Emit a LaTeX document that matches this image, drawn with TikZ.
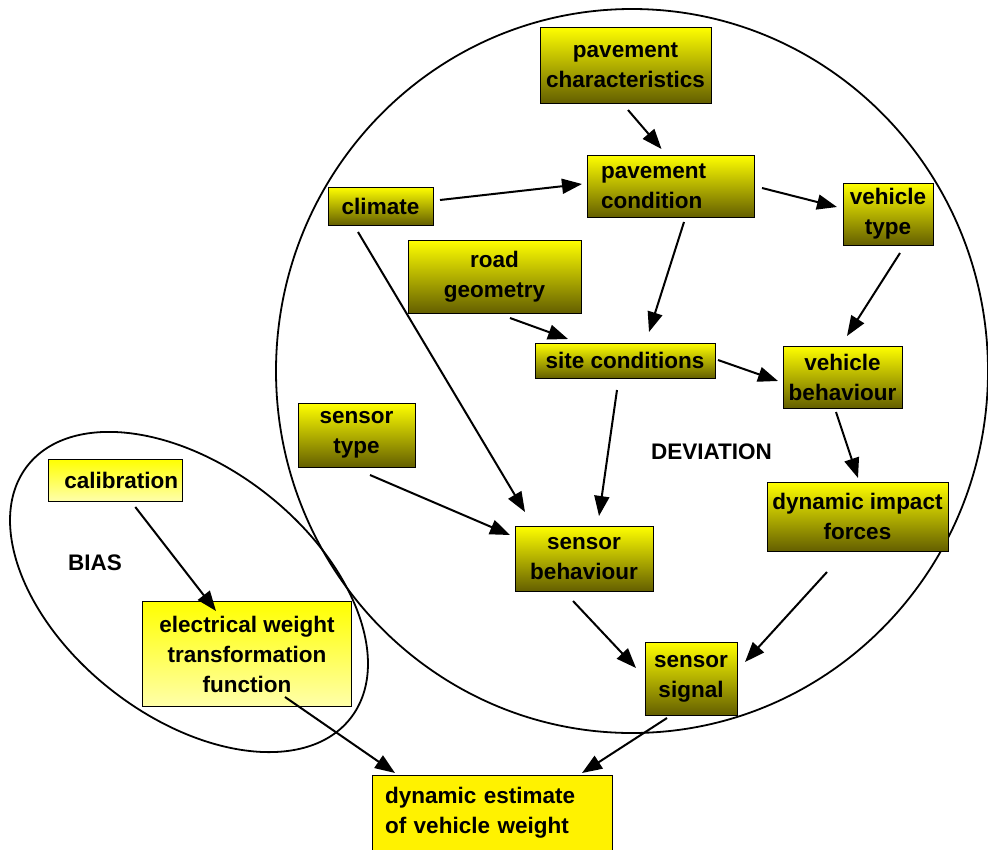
\documentclass[tikz,border=0pt]{standalone}
\usepackage{fontspec}
\setmainfont{Liberation Sans}
\usetikzlibrary{arrows.meta,calc}
\definecolor{olivebot}{RGB}{100,95,0}
\definecolor{lightbot}{RGB}{255,255,170}
\begin{document}
\begin{tikzpicture}[x=1pt,y=-1pt,
  boxbase/.style={draw=black, line width=1pt, inner xsep=0pt, inner ysep=0pt, align=center,
    font=\fontsize{22.5}{30}\selectfont\bfseries},
  darkbox/.style={boxbase, top color=yellow, bottom color=olivebot},
  lightbox/.style={boxbase, top color=yellow, bottom color=lightbot},
  plainbox/.style={boxbase, fill=yellow},
  conn/.style={line width=2pt, -{Triangle[length=20pt,width=15pt]}},
  ring/.style={line width=1.8pt},
  lbltext/.style={font=\fontsize{22.5}{30}\selectfont\bfseries}
]
\useasboundingbox (0,0) rectangle (988,849);
\clip (0,0) rectangle (988,849);

% enclosing shapes
\draw[ring] (632,371) ellipse [x radius=356, y radius=362];
\draw[ring, rotate around={-38:(189,592)}] (189,592) ellipse [x radius=205, y radius=125];

% nodes
\node[darkbox, minimum width=171pt, minimum height=76pt] (pc) at (625.5,65) {pavement\\characteristics};
\node[darkbox, text width=139pt, inner xsep=14pt, align=left, minimum height=62pt] (pcond) at (670.5,186) {pavement\\condition};
\node[darkbox, minimum width=105pt, minimum height=38pt] (climate) at (380.5,206) {climate};
\node[darkbox, minimum width=90pt, minimum height=62pt] (vtype) at (888,214) {vehicle\\type};
\node[darkbox, minimum width=173pt, minimum height=73pt] (road) at (494.5,276.5) {road\\geometry};
\node[darkbox, minimum width=180pt, minimum height=35pt] (site) at (625,360.5) {site conditions};
\node[darkbox, minimum width=119pt, minimum height=62pt] (vbeh) at (842.5,377) {vehicle\\behaviour};
\node[darkbox, minimum width=117pt, minimum height=64pt] (stype) at (356.5,435) {sensor\\type};
\node[darkbox, minimum width=138pt, minimum height=65pt] (sbeh) at (584,558.5) {sensor\\behaviour};
\node[darkbox, minimum width=181pt, minimum height=69pt] (dimp) at (857.5,516.5) {dynamic impact\\forces};
\node[darkbox, minimum width=92pt, minimum height=73pt] (ssig) at (691,678.5) {sensor\\signal};
\node[lightbox, minimum width=134pt, minimum height=42pt] (calib) at (115.3,480) {\hspace*{12pt}calibration};
\node[lightbox, minimum width=209pt, minimum height=105pt] (elec) at (247,654) {electrical weight\\transformation\\function};
\node[plainbox, text width=214pt, inner xsep=13pt, align=left, minimum height=76pt] (dest) at (492,813) {dynamic estimate\\of vehicle weight};

\node[lbltext] (deviation) at (711.5,452) {DEVIATION};
\node[lbltext] (bias) at (95,563) {BIAS};

% connectors
\draw[conn] ($(pc)+(2.5,45)$) -- ($(pcond)+(-9,-37)$);
\draw[conn] ($(climate)+(59.5,-6)$) -- ($(pcond)+(-88.5,-2)$);
\draw[conn] ($(pcond)+(91.5,2)$) -- ($(vtype)+(-51,-7)$);
\draw[conn] ($(pcond)+(13.5,36)$) -- ($(site)+(24,-28.5)$);
\draw[conn] ($(vtype)+(12,39)$) -- ($(vbeh)+(4.5,-41)$);
\draw[conn] ($(road)+(15.5,41.5)$) -- ($(site)+(-57,-21.5)$);
\draw[conn] ($(site)+(93,-0.5)$) -- ($(vbeh)+(-64.5,4)$);
\draw[conn] ($(climate)+(-22.5,26)$) -- ($(sbeh)+(-59,-46.5)$);
\draw[conn] ($(site)+(-8,29.5)$) -- ($(sbeh)+(15,-42.5)$);
\draw[conn] ($(stype)+(13.5,40)$) -- ($(sbeh)+(-74,-23.5)$);
\draw[conn] ($(vbeh)+(-6.5,35)$) -- ($(dimp)+(0.5,-38.5)$);
\draw[conn] ($(dimp)+(-30.5,55.5)$) -- ($(ssig)+(54,-16.5)$);
\draw[conn] ($(sbeh)+(-11,42.5)$) -- ($(ssig)+(-55,-10.5)$);
\draw[conn] ($(calib)+(20,27)$) -- ($(elec)+(-31,-43)$);
\draw[conn] ($(elec)+(38,43)$) -- ($(dest)+(-97,-40)$);
\draw[conn] ($(ssig)+(-24,39.5)$) -- ($(dest)+(90,-40)$);
\end{tikzpicture}
\end{document}
